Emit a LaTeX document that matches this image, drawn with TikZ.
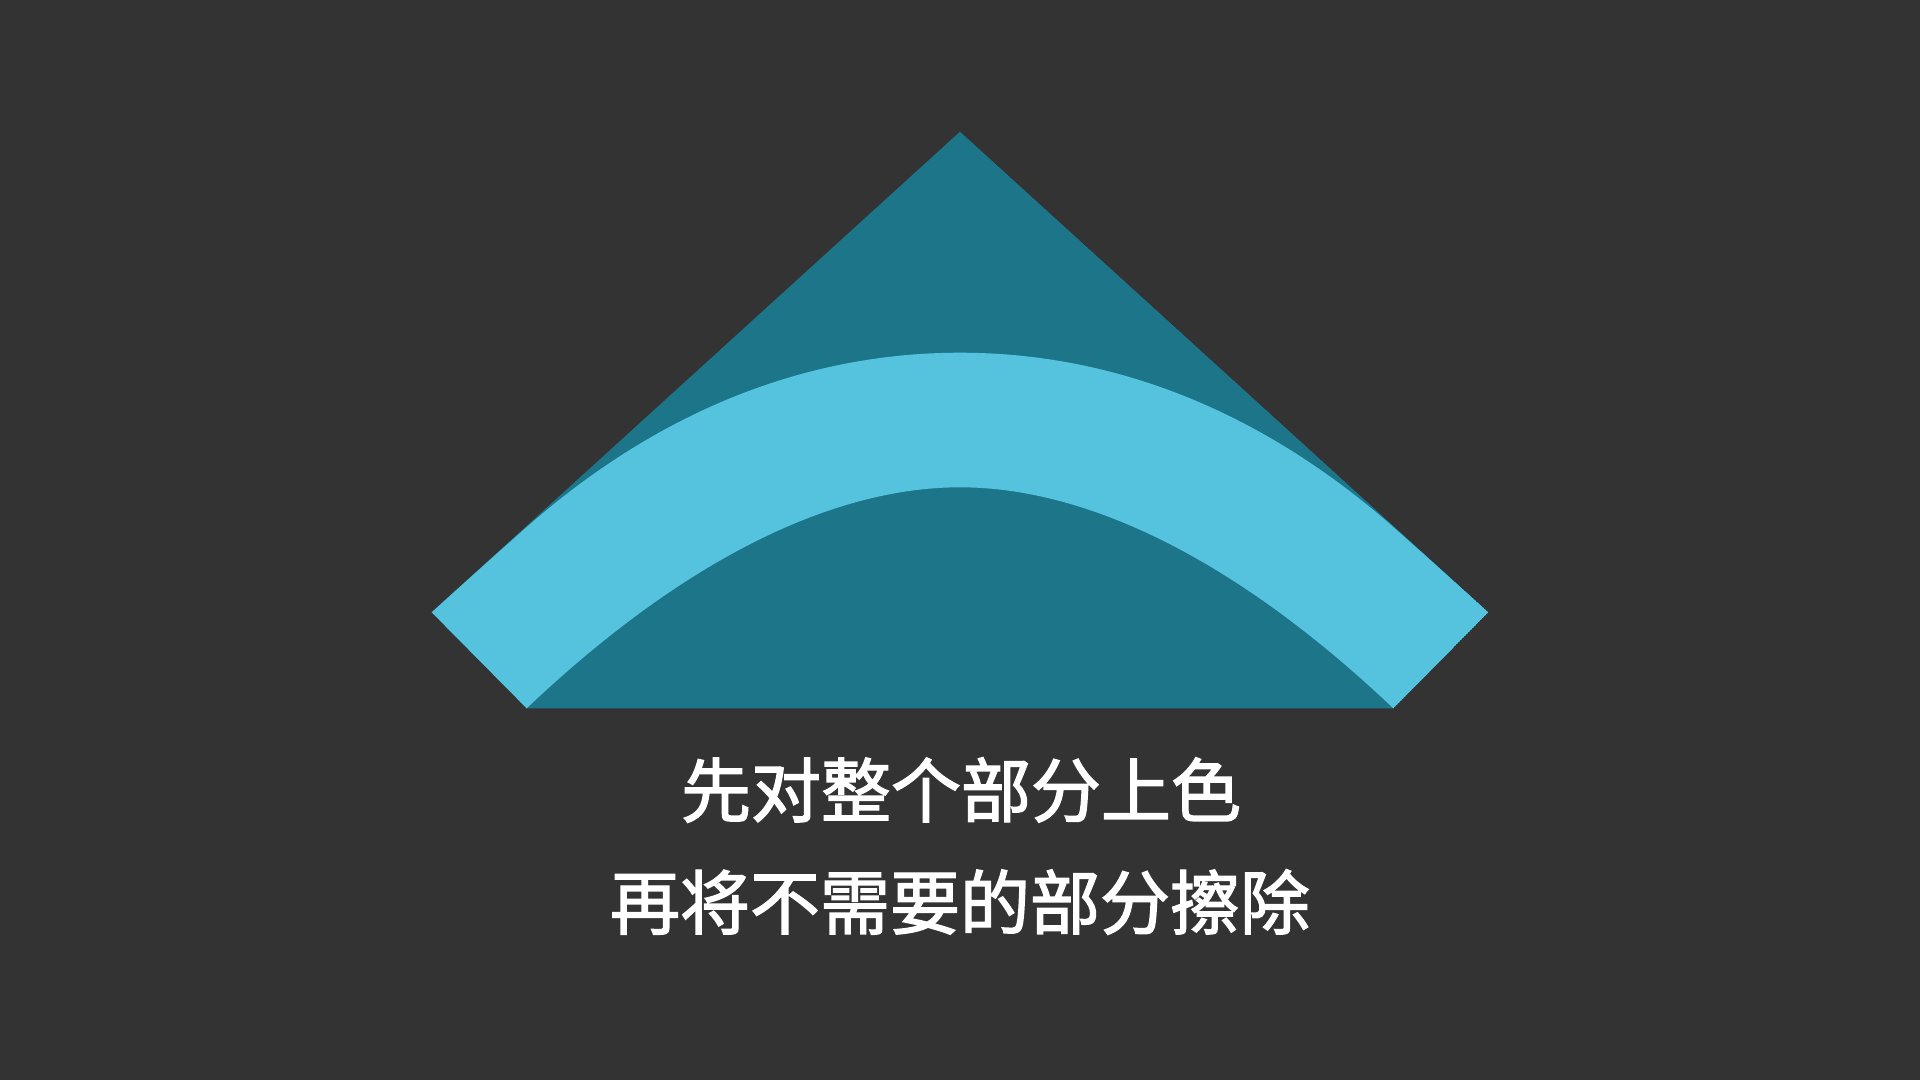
\documentclass[tikz,border=0pt]{standalone}
\usepackage{fontspec}
\newfontfamily\cjk[FakeBold=2]{Noto Sans CJK SC}
\definecolor{bg}{HTML}{333333}
\definecolor{tealdark}{RGB}{29,117,138}
\definecolor{teallight}{RGB}{86,195,222}
\begin{document}
\begin{tikzpicture}[x=1pt,y=-1pt,
  caption/.style={text=white,inner sep=0pt,font=\cjk\fontsize{70}{84}\selectfont}]
\fill[bg] (0,0) rectangle (1920,1080);
\useasboundingbox (0,0) rectangle (1920,1080);
\coordinate (A) at (960,131.7);
\coordinate (L) at (431.7,612.3);
\coordinate (BL) at (526.7,708.3);
\coordinate (BR) at (1393.3,708.3);
\coordinate (R) at (1488.3,612.3);
\coordinate (T1) at (960,352.7);
\coordinate (T2) at (960,487.3);
\coordinate (J1) at (523.3,530);
\coordinate (J2) at (1396.7,530);
\begin{scope}
\clip (A) -- (L) -- (BL) -- (BR) -- (R) -- cycle;
\fill[tealdark] (A) -- (L) -- (BL) -- (BR) -- (R) -- cycle;
\fill[teallight] (L) .. controls (461.7,585) and (490.3,559.4) .. (J1)
  .. controls (643.3,423.2) and (790,352.7) .. (T1)
  .. controls (1130,352.7) and (1276.7,423.2) .. (J2)
  .. controls (1429.7,559.4) and (1458.3,585) .. (R) -- (BR)
  .. controls (1243.3,565.8) and (1093,487.3) .. (T2)
  .. controls (827,487.3) and (676.7,565.8) .. (BL) -- cycle;
\end{scope}
\node[caption] (line1) at (961,790) {先对整个部分上色};
\node[caption] (line2) at (960,902) {再将不需要的部分擦除};
\end{tikzpicture}
\end{document}
